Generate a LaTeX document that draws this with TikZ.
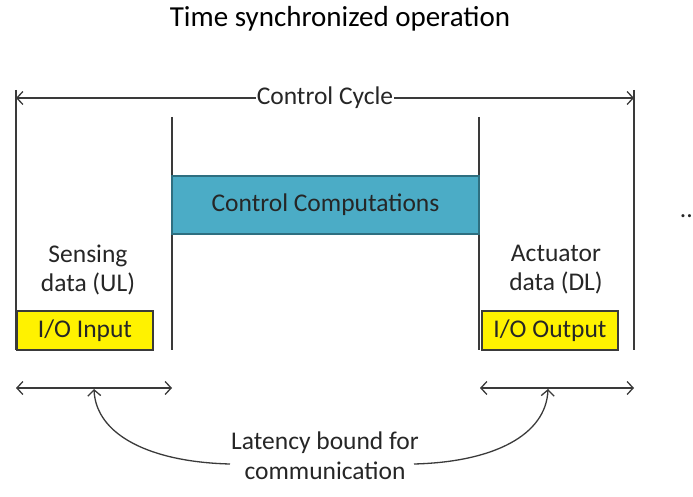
\documentclass[tikz,border=0pt]{standalone}
\usepackage{fontspec}
\setmainfont{Carlito}
\usetikzlibrary{arrows.meta}
\definecolor{ln}{HTML}{3A3A3A}
\definecolor{teal}{HTML}{4BACC6}
\definecolor{tealb}{HTML}{2E6F80}
\begin{document}
\begin{tikzpicture}[x=1pt,y=-1pt,
  ln/.style={draw=ln,line width=1.3pt},
  dbl/.style={ln,{Straight Barb[length=6pt,width=13pt]}-{Straight Barb[length=6pt,width=13pt]}},
  bendarrow/.style={ln,-{Straight Barb[length=6pt,width=13pt]}},
  txt/.style={font=\fontsize{25.5}{29}\selectfont,text=black!85,align=center,inner sep=0pt},
  iobox/.style={draw=ln,line width=1.2pt,fill=yellow,minimum width=136pt,minimum height=39pt,inner sep=0pt,font=\fontsize{25.5}{29}\selectfont,text=black!85}
]
\useasboundingbox (0,0) rectangle (693,497);
% title
\node[inner sep=0pt,anchor=base,font=\fontsize{29}{33}\selectfont] (title) at (340,27) {Time synchronized operation};
% coordinates
\coordinate (otl) at (16,90);  \coordinate (obl) at (16,350);
\coordinate (otr) at (634,90); \coordinate (obr) at (634,350);
\coordinate (itl) at (172,117); \coordinate (ibl) at (172,350);
\coordinate (itr) at (479,117); \coordinate (ibr) at (479,350);
\draw[ln] (otl) -- (obl);
\draw[ln] (otr) -- (obr);
\draw[ln] (itl) -- (ibl);
\draw[ln] (itr) -- (ibr);
% control cycle arrow
\coordinate (ccl) at (16,98); \coordinate (ccr) at (634,98);
\node[txt,fill=white,inner xsep=1pt] (cc) at (325,98) {Control Cycle};
\draw[ln,{Straight Barb[length=6pt,width=13pt]}-] (ccl) -- (cc.west);
\draw[ln,-{Straight Barb[length=6pt,width=13pt]}] (cc.east) -- (ccr);
% control computations
\node[draw=tealb,line width=1.2pt,fill=teal,minimum width=307pt,minimum height=58pt,inner sep=0pt,font=\fontsize{25.5}{29}\selectfont,text=black!85] (comp) at (325.5,205) {Control Computations};
% labels
\node[txt] (sens) at (88,270) {Sensing\\data (UL)};
\node[txt] (act) at (556,270) {Actuator\\data (DL)};
\node[iobox] (ioin) at (85,330.5) {I/O Input};
\node[iobox] (ioout) at (550,330.5) {I/O Output};
% dots
\node[txt,anchor=east] (dots) at (693,216) {..};
% lower arrows
\coordinate (la) at (16,388); \coordinate (lb) at (172,388);
\coordinate (ra) at (480,388); \coordinate (rb) at (634,388);
\draw[dbl] (la) -- (lb);
\draw[dbl] (ra) -- (rb);
\coordinate (lt) at (94,389); \coordinate (rt) at (548,389);
\node[txt,font=\fontsize{25.5}{30}\selectfont] (lat) at (325,456) {Latency bound for\\communication};
\coordinate (ls) at (230,464); \coordinate (rs) at (414,464);
\draw[bendarrow] (ls) .. controls (150,462) and (96,435) .. (lt);
\draw[bendarrow] (rs) .. controls (494,462) and (546,435) .. (rt);
\end{tikzpicture}
\end{document}
